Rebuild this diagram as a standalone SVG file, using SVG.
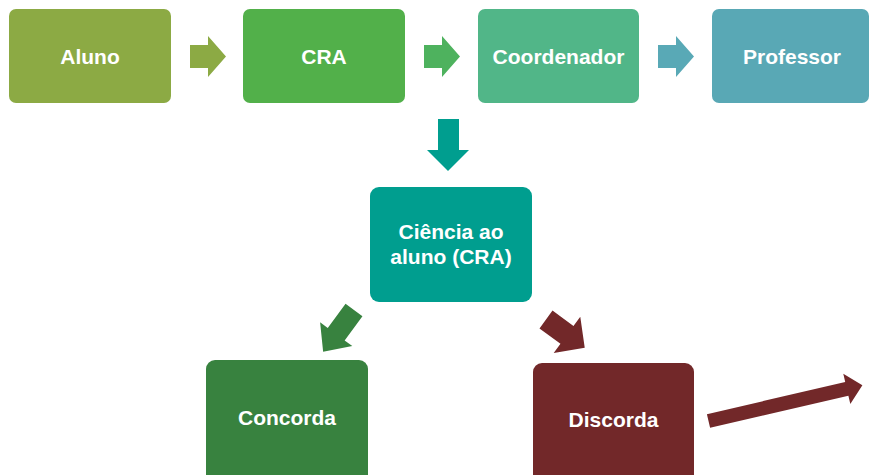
<svg xmlns="http://www.w3.org/2000/svg" width="869" height="475" viewBox="0 0 869 475">
<style>
text{font-family:"Liberation Sans",Arial,sans-serif;font-weight:bold;font-size:21px;fill:#fff;text-anchor:middle}
</style>
<defs>
<path id="rarrow" d="M0,-11.5 H18 V-20.5 H36 L18,20.5 V11.5 H0 Z"/>
</defs>
<rect width="869" height="475" fill="#fff"/>
<g id="connectors">
<path d="M190,45 H208 V36 L226,56.5 L208,77 V68 H190 Z" fill="#8CAA44"/>
<path d="M424,45 H442 V36 L460,56.5 L442,77 V68 H424 Z" fill="#4EB25E"/>
<path d="M658,45 H676 V36 L694,56.5 L676,77 V68 H658 Z" fill="#59A9B6"/>
<path d="M438,119 H459 V150 H469 L448,171 L427,150 H438 Z" fill="#009E8F"/>
<path transform="translate(354,310) rotate(126.4)" d="M0,-10.5 H30 V-20 L52,0 L30,20 V10.5 H0 Z" fill="#38823F"/>
<path transform="translate(546,319.5) rotate(36.2)" d="M0,-11 H26 V-22.5 L48,0 L26,22.5 V11 H0 Z" fill="#722829"/>
<path transform="translate(708.5,421) rotate(-13.1)" d="M0,-7 H142 V-15.5 L158,0 L142,15.5 V7 H0 Z" fill="#722829"/>
</g>
<g id="aluno"><rect x="9" y="9" width="162" height="94" rx="7" fill="#8CAA44"/><text x="90" y="63.5">Aluno</text></g>
<g id="cra"><rect x="243" y="9" width="162" height="94" rx="7" fill="#52B04A"/><text x="324" y="63.5">CRA</text></g>
<g id="coordenador"><rect x="478" y="9" width="161" height="94" rx="7" fill="#51B688"/><text x="558.5" y="63.5">Coordenador</text></g>
<g id="professor"><rect x="712" y="9" width="157" height="94" rx="7" fill="#59A8B5"/><text x="792" y="63.5">Professor</text></g>
<g id="ciencia"><rect x="370" y="187" width="162" height="115" rx="9" fill="#009E8F"/><text x="451" y="239">Ciência ao</text><text x="451" y="264">aluno (CRA)</text></g>
<g id="concorda"><rect x="206" y="360" width="162" height="125" rx="9" fill="#38823F"/><text x="287" y="425">Concorda</text></g>
<g id="discorda"><rect x="533" y="363" width="161" height="122" rx="9" fill="#722829"/><text x="613.5" y="427">Discorda</text></g>
</svg>
